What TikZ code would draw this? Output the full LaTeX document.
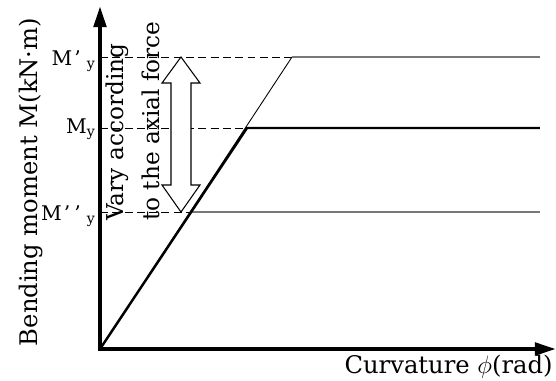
\documentclass[tikz,border=0pt]{standalone}
\usepackage{fontspec}
\setmainfont{DejaVu Serif}
\usepackage{tikz}
\usetikzlibrary{arrows.meta, positioning, calc}
\definecolor{mydark}{RGB}{0,0,0}
\definecolor{mygray}{RGB}{120,120,120}
\tikzset{
  axisline/.style={-{Triangle[length=12pt, width=7pt]}, line width=2.3pt, color=mydark},
  thickline/.style={line width=1.4pt, color=mydark},
  thinline/.style={line width=0.5pt, color=mydark},
  grayline/.style={line width=0.7pt, color=mygray},
  dashline/.style={line width=0.5pt, dash pattern=on 4.5pt off 2.5pt, color=mydark},
  ylevel/.style={font=\fontsize{11.5}{13}\selectfont, inner sep=0pt},
  axislabel/.style={font=\fontsize{13.8}{16}\selectfont, inner sep=0pt},
  notelabel/.style={font=\fontsize{13.2}{20}\selectfont, align=left, inner sep=0pt, rotate=90},
  hollowarrow/.style={line width=0.6pt, draw=mydark, fill=white}
}

\begin{document}
\begin{tikzpicture}[x=0.02cm, y=-0.02cm]
  \useasboundingbox (0,0) rectangle (556,380);

  % Key points
  \coordinate (O) at (100,349);
  \coordinate (ytip) at (100,6);
  \coordinate (xtip) at (556,349);
  \coordinate (kinkTop) at (292,57);
  \coordinate (kinkMid) at (247,128);
  \coordinate (cross) at (190,212);
  \coordinate (endTop) at (540,57);
  \coordinate (endMid) at (540,128);
  \coordinate (endLow) at (540,212);

  % Dashed guide lines to the axis
  \draw[dashline] (O |- kinkTop) -- (kinkTop);
  \draw[dashline] (O |- kinkMid) -- (kinkMid);
  \draw[dashline] (O |- cross) -- (cross);

  % Upper and lower bounds
  \draw[thinline] (O) -- (kinkTop);
  \draw[grayline] (kinkTop) -- (endTop);
  \draw[grayline] (cross) -- (endLow);

  % Bilinear model
  \draw[thickline] (O) -- (kinkMid) -- (endMid);

  % Hollow double arrow
  \draw[hollowarrow] (181,57) -- (200,83) -- (191,83) -- (191,185) -- (200,185)
    -- (181,212) -- (162,185) -- (171,185) -- (171,83) -- (162,83) -- cycle;
  \node[notelabel, anchor=north west] (note) at (106,221) {Vary according\\to the axial force};

  % Axes
  \draw[axisline] ([yshift=-1.2pt]O) -- (ytip);
  \draw[axisline] ([xshift=-1.2pt]O) -- (xtip);
  \node[axislabel, rotate=90, anchor=base] (ylab) at (37,182) {Bending moment M(kN·m)};
  \node[axislabel, anchor=base east] (xlab) at (553,373) {Curvature $\phi$(rad)};

  % Levels
  \node[ylevel, anchor=base east] (Mtop) at (96,65) {M\kern.1em’\kern.3em\textsubscript{y}};
  \node[ylevel, anchor=base east] (Mmid) at (96,133) {M\textsubscript{y}};
  \node[ylevel, anchor=base east] (Mlow) at (96,220) {M\kern.1em’\kern.2em’\kern.3em\textsubscript{y}};
\end{tikzpicture}
\end{document}
